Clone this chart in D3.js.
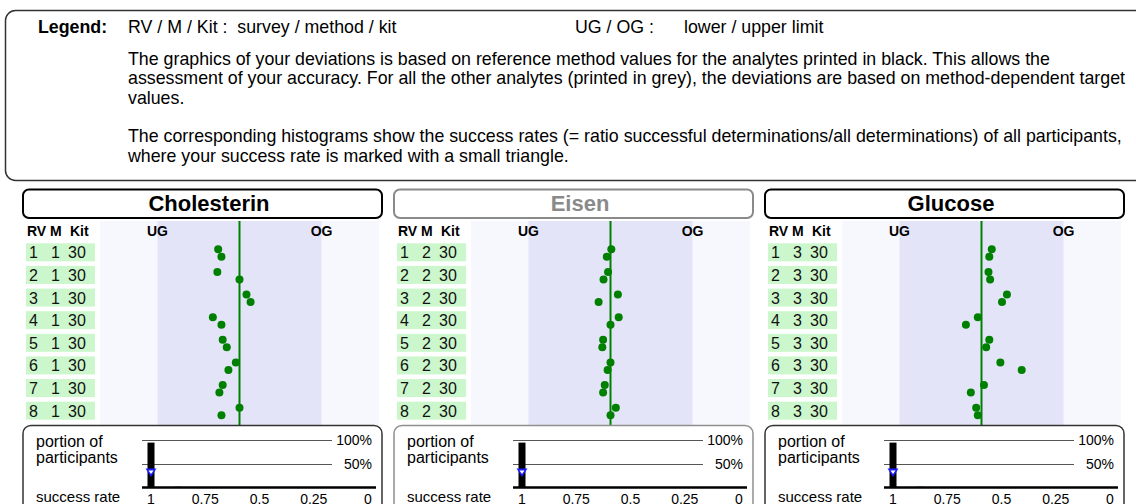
<!DOCTYPE html>
<html>
<head>
<meta charset="utf-8">
<script src="https://cdn.jsdelivr.net/npm/d3@7/dist/d3.min.js"></script>
<style>
  html, body { margin: 0; padding: 0; background: #ffffff; }
  svg { display: block; font-family: "Liberation Sans", Arial, sans-serif; }
</style>
</head>
<body>
<svg id="chart" width="1136" height="504"></svg>
<script>
// ---------------- data ----------------
const analytes = ["Cholesterin", "Eisen", "Glucose"];
const analyteIsGrey = [false, true, false];
const surveys = [1, 2, 3, 4, 5, 6, 7, 8];
const methods = [1, 2, 3];
const kits = [30, 30, 30];

// deviations in units of the limit (UG = -1, OG = +1), two determinations per survey
const cholesterinDev1 = [-0.26, -0.27, 0.085, -0.325, -0.205, -0.045, -0.205, 0.0];
const cholesterinDev2 = [-0.22, 0.0, 0.135, -0.22, -0.155, -0.135, -0.245, -0.22];
const eisenDev1 = [0.01, -0.03, 0.09, 0.10, -0.09, 0.0, -0.07, 0.065];
const eisenDev2 = [-0.045, -0.085, -0.145, 0.0, -0.10, -0.035, -0.09, 0.0];
const glucoseDev1 = [0.125, 0.085, 0.31, -0.045, 0.095, 0.23, 0.03, -0.065];
const glucoseDev2 = [0.095, 0.105, 0.25, -0.19, 0.057, 0.49, -0.13, -0.045];

// histograms: success rate bins and portion of participants
const successRateBins = [1, 0.875];
const cholesterinPortion = [0.945, 0.015];
const eisenPortion = [0.945, 0.0];
const glucosePortion = [0.945, 0.015];
const ownSuccessRate = [1, 1, 1];

const successTicks = [1, 0.75, 0.5, 0.25, 0];
const portionTicks = [1, 0.5];
const limitLabels = ["UG", "OG"];

const devs = [[cholesterinDev1, cholesterinDev2], [eisenDev1, eisenDev2], [glucoseDev1, glucoseDev2]];
const portions = [cholesterinPortion, eisenPortion, glucosePortion];

// ---------------- drawing ----------------
const svg = d3.select("#chart");

// Legend box
svg.append("rect")
  .attr("x", 5.5).attr("y", 10.5).attr("width", 1160).attr("height", 170)
  .attr("rx", 10).attr("ry", 10)
  .attr("fill", "#ffffff").attr("stroke", "#333333").attr("stroke-width", 1.5);

const lg = svg.append("g").attr("font-size", 17.8).attr("fill", "#000");
lg.append("text").attr("x", 38).attr("y", 33).attr("font-weight", "bold").text("Legend:");
lg.append("text").attr("x", 128).attr("y", 33).attr("xml:space", "preserve").text("RV / M / Kit :  survey / method / kit");
lg.append("text").attr("x", 575).attr("y", 33).text("UG / OG :");
lg.append("text").attr("x", 684).attr("y", 33).text("lower / upper limit");
const legendLines = [
  ["The graphics of your deviations is based on reference method values for the analytes printed in black. This allows the", 64.5],
  ["assessment of your accuracy. For all the other analytes (printed in grey), the deviations are based on method-dependent target", 84],
  ["values.", 103.5],
  ["The corresponding histograms show the success rates (= ratio successful determinations/all determinations) of all participants,", 142],
  ["where your success rate is marked with a small triangle.", 161.5]
];
legendLines.forEach(([t, y]) => lg.append("text").attr("x", 128).attr("y", y).text(t));

// Panels
const panelX = [23, 394, 765];
const rowBand = d3.scaleBand().domain(surveys).range([241, 422]);

analytes.forEach((name, ai) => {
  const x0 = panelX[ai];
  const grey = analyteIsGrey[ai];
  const g = svg.append("g");

  // plot area
  const xDev = d3.scaleLinear().domain([-1.7, 1.7]).range([x0 + 77, x0 + 356]);
  g.append("rect")
    .attr("x", xDev(-1.7)).attr("y", 221)
    .attr("width", xDev(1.7) - xDev(-1.7)).attr("height", 206)
    .attr("fill", "#f7f7fe");
  g.append("rect")
    .attr("x", xDev(-1)).attr("y", 221)
    .attr("width", xDev(1) - xDev(-1)).attr("height", 206)
    .attr("fill", "#e4e4f8");
  g.append("line")
    .attr("x1", xDev(0)).attr("x2", xDev(0))
    .attr("y1", 221).attr("y2", 427)
    .attr("stroke", "#008000").attr("stroke-width", 2);

  // title box
  g.append("rect")
    .attr("x", x0).attr("y", 189.5).attr("width", 359).attr("height", 28.5)
    .attr("rx", 6).attr("ry", 6)
    .attr("fill", "#ffffff")
    .attr("stroke", grey ? "#8a8a8a" : "#000000").attr("stroke-width", 2);
  g.append("text")
    .attr("x", x0 + 186).attr("y", 210.5).attr("text-anchor", "middle")
    .attr("font-size", 22).attr("font-weight", "bold")
    .attr("fill", grey ? "#8a8a8a" : "#000000")
    .text(name);

  // header
  const hdr = g.append("g").attr("font-size", 14).attr("font-weight", "bold").attr("fill", "#000");
  hdr.append("text").attr("x", x0 + 4).attr("y", 236).text("RV");
  hdr.append("text").attr("x", x0 + 27).attr("y", 236).text("M");
  hdr.append("text").attr("x", x0 + 47).attr("y", 236).text("Kit");
  hdr.append("text").attr("x", xDev(-1)).attr("y", 236).attr("text-anchor", "middle").text(limitLabels[0]);
  hdr.append("text").attr("x", xDev(1)).attr("y", 236).attr("text-anchor", "middle").text(limitLabels[1]);

  // row labels
  surveys.forEach((s, i) => {
    const cy = rowBand(s) + rowBand.bandwidth() / 2;
    g.append("rect")
      .attr("x", x0 + 3).attr("y", cy - 9).attr("width", 69).attr("height", 18)
      .attr("fill", "#ccf7cc");
    const rt = g.append("g").attr("font-size", 16).attr("fill", "#111");
    rt.append("text").attr("x", x0 + 6).attr("y", cy + 6).text(s);
    rt.append("text").attr("x", x0 + 28).attr("y", cy + 6).text(methods[ai]);
    rt.append("text").attr("x", x0 + 45).attr("y", cy + 6).text(kits[ai]);
  });

  // dots
  const [d1, d2] = devs[ai];
  g.selectAll(".dotA").data(surveys).enter().append("circle")
    .attr("cx", (s, i) => xDev(d1[i]))
    .attr("cy", s => rowBand(s) + rowBand.bandwidth() / 2 - 3)
    .attr("r", 4).attr("fill", "#008000");
  g.selectAll(".dotB").data(surveys).enter().append("circle")
    .attr("cx", (s, i) => xDev(d2[i]))
    .attr("cy", s => rowBand(s) + rowBand.bandwidth() / 2 + 4.5)
    .attr("r", 4).attr("fill", "#008000");

  // histogram box
  g.append("rect")
    .attr("x", x0).attr("y", 425.5).attr("width", 359).attr("height", 110)
    .attr("rx", 8).attr("ry", 8)
    .attr("fill", "#ffffff")
    .attr("stroke", grey ? "#8f8f8f" : "#333333").attr("stroke-width", 1.5);

  const hx = d3.scaleLinear().domain([1, 0]).range([x0 + 128, x0 + 345]);
  const hy = d3.scaleLinear().domain([0, 1]).range([487.5, 440]);

  g.append("text").attr("x", x0 + 13).attr("y", 446.5).attr("font-size", 16).text("portion of");
  g.append("text").attr("x", x0 + 13).attr("y", 462.5).attr("font-size", 16).text("participants");
  g.append("text").attr("x", x0 + 13).attr("y", 502).attr("font-size", 15).text("success rate");

  portionTicks.forEach(p => {
    g.append("line")
      .attr("x1", x0 + 119).attr("x2", x0 + 309)
      .attr("y1", Math.round(hy(p)) + 0.5).attr("y2", Math.round(hy(p)) + 0.5)
      .attr("stroke", "#555555").attr("stroke-width", 1);
    g.append("text")
      .attr("x", x0 + 349).attr("y", hy(p) + 5).attr("text-anchor", "end")
      .attr("font-size", 14).text(d3.format(".0%")(p));
  });

  // bars
  const por = portions[ai];
  successRateBins.forEach((b, i) => {
    if (por[i] <= 0) return;
    g.append("rect")
      .attr("x", hx(b) - 3.5).attr("width", 7)
      .attr("y", hy(por[i])).attr("height", Math.max(1, hy(0) - hy(por[i])))
      .attr("fill", "#000000");
  });

  // baseline
  g.append("line")
    .attr("x1", x0 + 119).attr("x2", x0 + 353)
    .attr("y1", hy(0)).attr("y2", hy(0))
    .attr("stroke", "#000000").attr("stroke-width", 2.5);

  // own success rate triangle
  const tx = hx(ownSuccessRate[ai]);
  g.append("path")
    .attr("d", `M${tx - 5.5},468.5 L${tx + 5.5},468.5 L${tx},477 Z`)
    .attr("fill", "#1a1aff");
  g.append("path")
    .attr("d", `M${tx - 2.5},470.5 L${tx + 2.5},470.5 L${tx},474 Z`)
    .attr("fill", "#ffffff");

  // success rate tick labels
  successTicks.forEach(t => {
    g.append("text")
      .attr("x", hx(t)).attr("y", 504).attr("text-anchor", "middle")
      .attr("font-size", 14).text(String(t));
  });
});
</script>
</body>
</html>
